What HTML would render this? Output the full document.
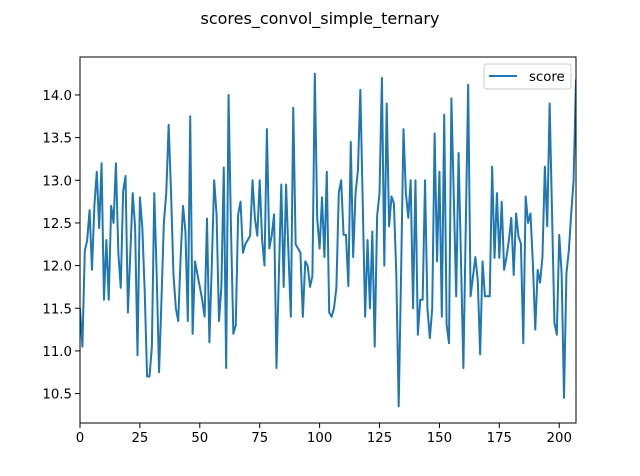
<!DOCTYPE html>
<html><head><meta charset="utf-8"><style>
html,body{margin:0;padding:0;background:#fff;}
svg{display:block;font-family:"DejaVu Sans","Liberation Sans",sans-serif;}
</style></head><body>
<svg id="chart" width="640" height="476" viewBox="0 0 640 476"></svg>
<script>
const seriesName = "score";
const scores = [
11.5,11.05,12.17,12.3,12.65,11.95,12.7,13.1,12.44,13.2,11.6,12.3,11.6,12.7,12.5,13.2,12.15,11.74,12.87,13.05,11.45,12.15,12.85,12.45,10.95,12.8,12.45,11.7,10.7,10.7,11.05,12.85,11.9,10.75,11.6,12.5,12.85,13.65,12.85,11.9,11.5,11.35,12.1,12.7,12.4,11.35,13.75,11.2,12.05,11.9,11.75,11.6,11.4,12.55,
11.1,12.0,13.0,12.6,11.35,11.75,13.15,10.8,14.0,12.45,11.2,11.3,12.6,12.75,12.15,12.25,12.3,12.35,13.0,12.55,12.35,13.0,12.3,12.0,13.6,12.2,12.35,12.6,10.8,11.9,12.95,11.75,12.95,12.15,11.4,13.85,12.25,12.2,12.15,11.4,12.05,12.0,11.75,11.88,14.25,12.55,12.2,12.8,12.1,13.1,11.45,
11.4,11.5,11.74,12.85,13.0,12.36,12.36,11.76,13.45,12.1,12.85,13.12,14.06,12.73,11.4,12.3,11.5,12.4,11.05,12.58,12.85,14.2,12.0,13.9,12.46,12.81,12.73,11.91,10.35,11.9,13.6,12.85,12.56,13.0,11.5,13.0,11.19,11.6,11.6,13.0,11.5,11.15,11.5,13.55,12.05,13.1,11.4,13.77,11.31,
11.09,13.96,12.8,11.64,13.32,12.06,10.8,12.46,14.12,11.64,11.87,12.1,11.83,10.96,12.05,11.64,11.64,11.64,13.16,12.09,12.85,12.09,12.75,11.95,12.1,12.3,12.56,11.89,12.61,12.34,12.26,11.09,12.81,12.5,12.61,12.03,11.25,11.95,11.8,12.1,13.16,12.46,13.9,12.61,11.33,11.19,12.36,11.91,10.45,11.91,12.17,12.61,13.0,14.18
];
const xTicks = [0,25,50,75,100,125,150,175,200];
const yTicks = [10.5,11.0,11.5,12.0,12.5,13.0,13.5,14.0];
const yTickLabels = ["10.5","11.0","11.5","12.0","12.5","13.0","13.5","14.0"];

const NS="http://www.w3.org/2000/svg";
const svg=document.getElementById('chart');
const L=80,R=576,T=57,B=423;
const xMax=scores.length-1;
const yMin0=Math.min(...scores), yMax0=Math.max(...scores);
const pad=(yMax0-yMin0)*0.05;
const yLo=yMin0-pad, yHi=yMax0+pad;
const xs=v=>L+(v/xMax)*(R-L);
const ys=v=>B-(v-yLo)/(yHi-yLo)*(B-T);
function mk(tag,attrs){const e=document.createElementNS(NS,tag);for(const k in attrs)e.setAttribute(k,attrs[k]);svg.appendChild(e);return e;}

const title=mk('text',{x:320,y:24,'text-anchor':'middle','font-size':'16','fill':'#000'});
title.textContent='scores_convol_simple_ternary';



let d='';
scores.forEach((v,i)=>{d+=(i?'L':'M')+xs(i).toFixed(2)+' '+ys(v).toFixed(2);});
const clip=mk('clipPath',{id:'pc'});
const cr=document.createElementNS(NS,'rect');cr.setAttribute('x',L);cr.setAttribute('y',T);cr.setAttribute('width',R-L);cr.setAttribute('height',B-T);clip.appendChild(cr);
const line=mk('path',{d:d,fill:'none',stroke:'#1f77b4','stroke-width':'2','stroke-linejoin':'round','clip-path':'url(#pc)'});



const frame=mk('rect',{x:L,y:T,width:R-L,height:B-T,fill:'none',stroke:'#000','stroke-width':'1'});



xTicks.forEach(t=>{
  const x=xs(t);
  const tk=mk('line',{x1:x,x2:x,y1:B,y2:B+5,stroke:'#000','stroke-width':'1'});
  
  
  const lb=mk('text',{x:x,y:B+19,'text-anchor':'middle','font-size':'13.3',fill:'#000'});
  lb.textContent=String(t);
  
  
});
yTicks.forEach((t,i)=>{
  const y=ys(t);
  const tk=mk('line',{x1:L-5,x2:L,y1:y,y2:y,stroke:'#000','stroke-width':'1'});
  
  
  const lb=mk('text',{x:L-8,y:y+5,'text-anchor':'end','font-size':'13.3',fill:'#000'});
  lb.textContent=yTickLabels[i];
  
  
});

const lg=mk('rect',{x:484,y:64,width:87,height:25,rx:3,fill:'#fff','fill-opacity':'0.8',stroke:'#ccc','stroke-width':'1'});


const ll=mk('line',{x1:489,x2:517,y1:76,y2:76,stroke:'#1f77b4','stroke-width':'2'});


const lt=mk('text',{x:529,y:81,'font-size':'13.3',fill:'#000'});
lt.textContent=seriesName;


</script>
</body></html>
